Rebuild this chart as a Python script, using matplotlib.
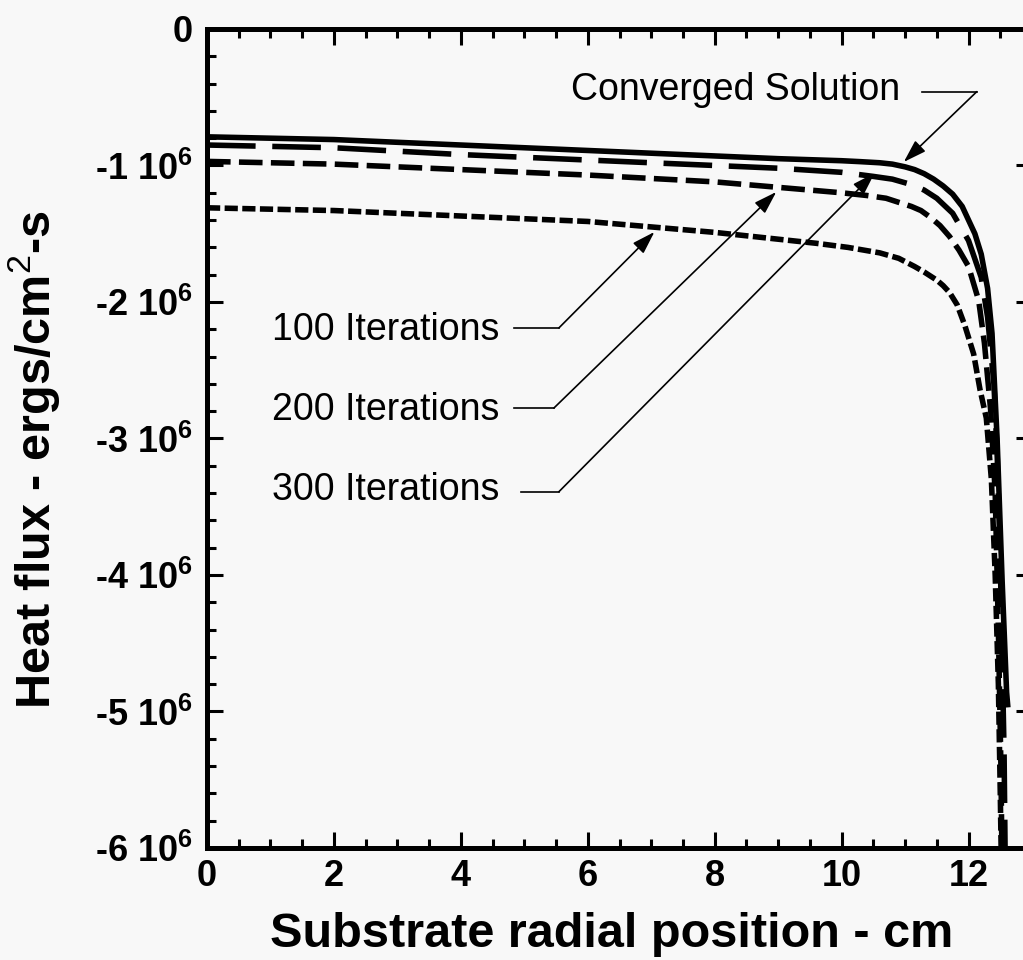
import matplotlib
matplotlib.use('Agg')
import matplotlib.pyplot as plt
from matplotlib.ticker import MultipleLocator, FixedLocator, FixedFormatter

plt.rcParams['font.family'] = ['Liberation Sans', 'DejaVu Sans']
plt.rcParams['mathtext.fontset'] = 'custom'
plt.rcParams['mathtext.rm'] = 'Liberation Sans'
plt.rcParams['mathtext.bf'] = 'Liberation Sans:bold'
plt.rcParams['mathtext.it'] = 'Liberation Sans:italic'
plt.rcParams['lines.scale_dashes'] = False

# ---------------- data (heat flux in units of 1e6 ergs/cm^2-s) ----------------
x_conv = [0, 2, 4, 6, 8, 9, 10, 10.3, 10.6, 10.8, 11.0, 11.15, 11.3, 11.45, 11.6, 11.75, 11.9, 12.1, 12.2,
          12.3, 12.37, 12.45, 12.53, 12.6, 12.62]
y_conv = [-0.79, -0.81, -0.85, -0.89, -0.93, -0.95, -0.965, -0.972, -0.98, -0.99, -1.01, -1.03, -1.06, -1.10,
          -1.15, -1.21, -1.30, -1.50, -1.65, -1.90, -2.23, -3.0, -4.05, -4.86, -4.97]

x_300 = [0, 2, 4, 6, 8, 9, 10, 10.5, 10.8, 11.1, 11.3, 11.5, 11.75, 12.0, 12.2, 12.3, 12.4, 12.45, 12.5,
         12.53, 12.56, 12.58]
y_300 = [-0.85, -0.87, -0.92, -0.96, -1.00, -1.02, -1.05, -1.08, -1.10, -1.14, -1.18, -1.24, -1.35, -1.55,
         -1.82, -2.11, -2.6, -3.1, -3.9, -4.6, -5.3, -6.2]

x_200 = [0, 2, 4, 6, 8, 9, 10, 10.4, 10.7, 10.9, 11.1, 11.25, 11.4, 11.55, 11.7, 11.85, 12.0, 12.16, 12.25,
         12.35, 12.42, 12.47, 12.51, 12.53]
y_200 = [-0.97, -0.99, -1.03, -1.07, -1.12, -1.16, -1.20, -1.22, -1.24, -1.27, -1.30, -1.33, -1.38, -1.44,
         -1.52, -1.62, -1.74, -1.99, -2.3, -2.8, -3.4, -4.4, -5.4, -6.2]

x_100 = [0, 2, 4, 6, 7, 8, 9, 9.6, 10.1, 10.6, 10.9, 11.15, 11.3, 11.5, 11.6, 11.7, 11.82, 11.94, 12.08,
         12.18, 12.28, 12.36, 12.42, 12.47, 12.5, 12.52]
y_100 = [-1.31, -1.33, -1.37, -1.41, -1.45, -1.49, -1.54, -1.57, -1.60, -1.64, -1.68, -1.74, -1.78, -1.84,
         -1.88, -1.93, -2.02, -2.17, -2.38, -2.64, -2.85, -3.3, -4.0, -4.8, -5.6, -6.2]

scale = 1e6

x_ticks = [0, 2, 4, 6, 8, 10, 12]
x_ticklabels = ['0', '2', '4', '6', '8', '10', '12']
y_ticks = [0, -1, -2, -3, -4, -5, -6]
y_ticklabels = ['0'] + [f'{v} 10$^{{\\mathbf{{6}}}}$' for v in [-1, -2, -3, -4, -5, -6]]

ann_labels = ['Converged Solution', '100 Iterations', '200 Iterations', '300 Iterations']
ann_text_x = [10.92, 4.60, 4.60, 4.60]
ann_text_y = [-0.52, -2.278, -2.864, -3.45]
ann_line_x0 = [11.26, 4.83, 4.83, 4.945]
ann_line_x1 = [12.13, 5.545, 5.466, 5.545]
ann_line_y = [-0.459, -2.19, -2.777, -3.39]
ann_tip_x = [10.98, 7.05, 8.97, 10.52]
ann_tip_y = [-0.974, -1.487, -1.194, -1.055]

# ---------------- figure ----------------
bg = '#f8f8f8'
fig = plt.figure(figsize=(10.23, 9.6), dpi=100, facecolor=bg)
ax = fig.add_axes([0.20235, 0.11667, 0.80645, 0.85313], facecolor=bg)

lw = 4.0
ax.plot(x_conv, [v * scale for v in y_conv], color='black', lw=lw, solid_capstyle='butt')
l300, = ax.plot(x_300, [v * scale for v in y_300], color='black', lw=lw, dash_capstyle='butt')
l300.set_dashes((35, 12))
l200, = ax.plot(x_200, [v * scale for v in y_200], color='black', lw=lw, dash_capstyle='butt')
l200.set_dashes((17, 6))
l100, = ax.plot(x_100, [v * scale for v in y_100], color='black', lw=lw, dash_capstyle='butt')
l100.set_dashes((9.5, 3.2))

ax.set_xlim(0, 13)
ax.set_ylim(-6 * scale, 0)

ax.xaxis.set_major_locator(FixedLocator(x_ticks))
ax.xaxis.set_major_formatter(FixedFormatter(x_ticklabels))
ax.xaxis.set_minor_locator(MultipleLocator(0.5))
ax.yaxis.set_major_locator(FixedLocator([v * scale for v in y_ticks]))
ax.yaxis.set_major_formatter(FixedFormatter(y_ticklabels))
ax.yaxis.set_minor_locator(MultipleLocator(0.2 * scale))

ax.tick_params(which='both', direction='in', top=True, right=True, width=2.2, color='black')
ax.tick_params(which='major', length=11.5)
ax.tick_params(which='minor', length=6.5)
ax.tick_params(axis='x', which='major', pad=8, labelsize=26)
ax.tick_params(axis='y', which='major', pad=10, labelsize=26)
for lab in ax.get_xticklabels() + ax.get_yticklabels():
    lab.set_fontweight('bold')

for sp in ax.spines.values():
    sp.set_linewidth(3.6)

ax.set_xlabel('Substrate radial position - cm', fontsize=35, fontweight='bold')
ax.xaxis.set_label_coords(0.49, -0.078)
ax.set_ylabel('Heat flux - ergs/cm$^{2}$-s', fontsize=35, fontweight='bold')
ax.yaxis.set_label_coords(-0.176, 0.474)

for i, lab in enumerate(ann_labels):
    ax.text(ann_text_x[i], ann_text_y[i] * scale, lab, fontsize=27, ha='right', va='baseline')
    ax.plot([ann_line_x0[i], ann_line_x1[i]], [ann_line_y[i] * scale, ann_line_y[i] * scale],
            color='black', lw=1.2)
    ax.annotate('', xy=(ann_tip_x[i], ann_tip_y[i] * scale),
                xytext=(ann_line_x1[i], ann_line_y[i] * scale),
                arrowprops=dict(arrowstyle='-|>,head_length=1.4,head_width=0.45', mutation_scale=10,
                                lw=1.2, color='black', shrinkA=0, shrinkB=0))

fig.savefig('out.png', dpi=100, facecolor=bg)
